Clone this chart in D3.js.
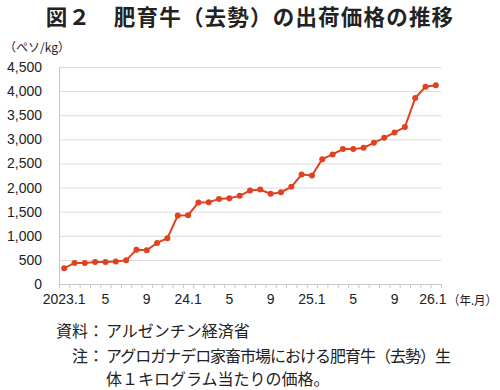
<!DOCTYPE html>
<html><head><meta charset="utf-8">
<script src="https://cdn.jsdelivr.net/npm/d3@7"></script>
<style>body{margin:0;background:#fff}svg{display:block}</style>
</head><body><svg id="c" width="500" height="390"></svg>
<script>
const months = [
  "2023.1","2023.2","2023.3","2023.4","2023.5","2023.6","2023.7","2023.8","2023.9","2023.10","2023.11","2023.12",
  "2024.1","2024.2","2024.3","2024.4","2024.5","2024.6","2024.7","2024.8","2024.9","2024.10","2024.11","2024.12",
  "2025.1","2025.2","2025.3","2025.4","2025.5","2025.6","2025.7","2025.8","2025.9","2025.10","2025.11","2025.12",
  "2026.1"];
const prices = [325,436,433,455,455,468,490,710,700,852,948,1420,1426,1689,1696,1765,1779,1828,1938,1959,1869,1904,2015,2271,2250,2589,2686,2797,2797,2825,2928,3032,3143,3254,3855,4090,4122];
const xTickMonths = ["2023.1","2023.5","2023.9","2024.1","2024.5","2024.9","2025.1","2025.5","2025.9","2026.1"];
const xTickLabels = ["2023.1","5","9","24.1","5","9","25.1","5","9","26.1"];
const yTicks = [0,500,1000,1500,2000,2500,3000,3500,4000,4500];

const svg = d3.select("#c");
const L = 59, R = 441, T = 67, B = 284;
const latin = "'Liberation Sans', Arial, sans-serif";
const jp = "'Noto Sans CJK JP', sans-serif";

const x = d3.scaleBand().domain(months).range([L, R]);
const xi = d3.scaleLinear().domain([0, months.length]).range([L, R]);
const y = d3.scaleLinear().domain([0, 4500]).range([B, T]);

// title
svg.append("text").attr("x", 250).attr("y", 25).attr("text-anchor", "middle")
  .attr("font-family", jp).attr("font-weight", "bold").attr("font-size", 21.5)
  .attr("letter-spacing", 1.2).attr("fill", "#222")
  .text("図２　肥育牛（去勢）の出荷価格の推移");

// unit
svg.append("text").attr("x", 4).attr("y", 52).attr("font-family", jp).attr("font-size", 12).attr("fill", "#222")
  .text("（ペソ/kg）");

// y axis with gridlines
const ga = svg.append("g").attr("transform", `translate(${L},0)`)
  .call(d3.axisLeft(y).tickValues(yTicks).tickSizeInner(-(R - L)).tickSizeOuter(0).tickPadding(17).tickFormat(d3.format(",")));
ga.select(".domain").attr("stroke", "#c8c8c8");
ga.selectAll(".tick line").attr("stroke", "#d9d9d9").attr("stroke-width", 1);
ga.selectAll(".tick text").attr("font-family", latin).attr("font-size", 14).attr("fill", "#222");

// x axis minor ticks
const gm = svg.append("g").attr("transform", `translate(0,${B})`)
  .call(d3.axisBottom(xi).tickValues(d3.range(months.length + 1)).tickSize(4).tickFormat(""));
gm.select(".domain").attr("stroke", "#c8c8c8");
gm.selectAll(".tick line").attr("stroke", "#c8c8c8");

// x axis labels
const gx = svg.append("g").attr("transform", `translate(0,${B})`)
  .call(d3.axisBottom(x).tickValues(xTickMonths).tickSize(0).tickPadding(10)
    .tickFormat(d => xTickLabels[xTickMonths.indexOf(d)]));
gx.select(".domain").remove();
gx.selectAll(".tick text").attr("font-family", latin).attr("font-size", 14).attr("fill", "#222")
  .attr("dx", d => d === "2026.1" ? -3 : 0);

svg.append("text").attr("x", 448).attr("y", 305).attr("font-family", jp).attr("font-size", 12.5).attr("fill", "#222")
  .attr("textLength", 49).attr("lengthAdjust", "spacingAndGlyphs")
  .text("（年.月）");

// line
const cx = d => x(d) + x.bandwidth() / 2;
svg.append("path").datum(prices)
  .attr("fill", "none").attr("stroke", "#e0421f").attr("stroke-width", 2)
  .attr("d", d3.line().x((d, i) => cx(months[i])).y(d => y(d)));
svg.append("g").selectAll("circle").data(prices).join("circle")
  .attr("cx", (d, i) => cx(months[i])).attr("cy", d => y(d)).attr("r", 3)
  .attr("fill", "#e0421f");

// footer
const fs = 16;
function note(label, text, yy, len) {
  if (label) svg.append("text").attr("x", 104).attr("y", yy).attr("text-anchor", "end")
    .attr("font-family", jp).attr("font-size", fs).attr("fill", "#222").text(label);
  const t = svg.append("text").attr("x", 106).attr("y", yy)
    .attr("font-family", jp).attr("font-size", fs).attr("fill", "#222").text(text);
  if (len) t.attr("textLength", len).attr("lengthAdjust", "spacing");
}
note("資料：", "アルゼンチン経済省", 337);
note("注：", "アグロガナデロ家畜市場における肥育牛（去勢）生", 362, 345);
note(null, "体１キログラム当たりの価格。", 385);
</script></body></html>
